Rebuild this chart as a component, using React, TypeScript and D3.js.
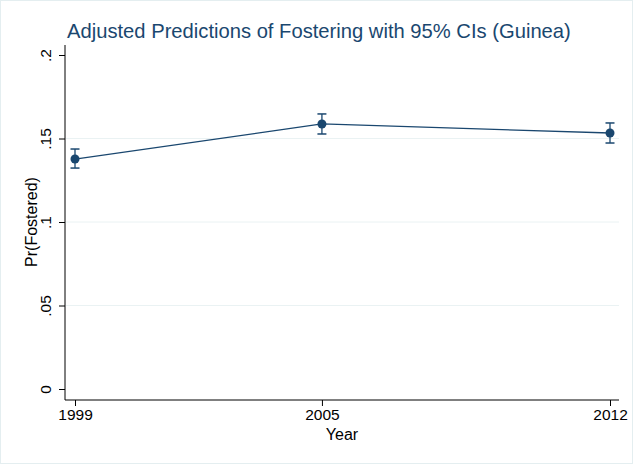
import React, { useEffect, useRef } from 'react';
import * as d3 from 'd3';

const years = [1999, 2005, 2012];
const predicted = [0.1377, 0.1587, 0.1533];
const lower = [0.1323, 0.1527, 0.1473];
const upper = [0.1437, 0.1647, 0.1593];
const yTicks = [0, 0.05, 0.1, 0.15, 0.2];
const yTickLabels = ['0', '.05', '.1', '.15', '.2'];

const W = 634;
const H = 465;
const navy = '#1a476f';

const App = () => {
  const svgRef = useRef<SVGSVGElement>(null);

  useEffect(() => {
    const svg = d3.select(svgRef.current);
    svg.selectAll('*').remove();

    const font = 'Arial, "Liberation Sans", sans-serif';

    // outer frame
    svg.append('rect')
      .attr('x', 0.5).attr('y', 0.5)
      .attr('width', W - 2).attr('height', H - 2)
      .attr('fill', '#fff')
      .attr('stroke', '#e4eef0');

    const x = d3.scaleLinear().domain([1999, 2012]).range([75, 610]);
    const y = d3.scaleLinear().domain([0, 0.2]).range([389, 55]);
    const axisX = 65;
    const axisY = 400;

    // gridlines
    svg.append('g')
      .selectAll('line')
      .data([0.05, 0.1, 0.15])
      .enter().append('line')
      .attr('x1', axisX + 1).attr('x2', 619)
      .attr('y1', d => y(d)).attr('y2', d => y(d))
      .attr('stroke', '#eaf2f3')
      .attr('stroke-width', 1);

    // y axis
    const yAxis = svg.append('g')
      .attr('transform', `translate(${axisX},0)`)
      .call(d3.axisLeft(y).tickValues(yTicks).tickSize(6).tickFormat((d, i) => yTickLabels[i]));
    yAxis.select('.domain').attr('d', `M0,${y(0.2) - 10}V${axisY}`).attr('stroke', '#000');
    yAxis.selectAll('.tick line').attr('stroke', '#000');
    yAxis.selectAll('.tick text')
      .attr('font-family', font).attr('font-size', 15.5).attr('fill', '#000')
      .attr('x', 0).attr('dy', 0)
      .attr('text-anchor', 'middle')
      .attr('transform', 'translate(-14,0) rotate(-90)');

    // x axis
    const xAxis = svg.append('g')
      .attr('transform', `translate(0,${axisY})`)
      .call(d3.axisBottom(x).tickValues(years).tickSize(6).tickFormat(d3.format('d')));
    xAxis.select('.domain').attr('d', `M${axisX},0H619`).attr('stroke', '#000');
    xAxis.selectAll('.tick line').attr('stroke', '#000');
    xAxis.selectAll('.tick text')
      .attr('font-family', font).attr('font-size', 15.5).attr('fill', '#000')
      .attr('y', 9);

    // axis titles
    svg.append('text')
      .attr('x', 342).attr('y', 440)
      .attr('text-anchor', 'middle')
      .attr('font-family', font).attr('font-size', 16)
      .text('Year');
    svg.append('text')
      .attr('transform', `translate(37,${y(0.1)}) rotate(-90)`)
      .attr('text-anchor', 'middle')
      .attr('font-family', font).attr('font-size', 16)
      .text('Pr(Fostered)');

    // title
    svg.append('text')
      .attr('x', 67).attr('y', 38)
      .attr('font-family', font).attr('font-size', 20.2)
      .attr('fill', navy)
      .text('Adjusted Predictions of Fostering with 95% CIs (Guinea)');

    const pts = years.map((yr, i) => ({ yr, p: predicted[i], lo: lower[i], hi: upper[i] }));

    // line
    svg.append('path')
      .datum(pts)
      .attr('fill', 'none')
      .attr('stroke', navy)
      .attr('stroke-width', 1.3)
      .attr('d', d3.line<any>().x(d => x(d.yr)).y(d => y(d.p)));

    // error bars
    const eb = svg.append('g').selectAll('g').data(pts).enter().append('g');
    eb.append('line')
      .attr('x1', d => x(d.yr)).attr('x2', d => x(d.yr))
      .attr('y1', d => y(d.lo)).attr('y2', d => y(d.hi))
      .attr('stroke', navy).attr('stroke-width', 1.3);
    eb.append('line')
      .attr('x1', d => x(d.yr) - 4.5).attr('x2', d => x(d.yr) + 4.5)
      .attr('y1', d => y(d.lo)).attr('y2', d => y(d.lo))
      .attr('stroke', navy).attr('stroke-width', 1.5);
    eb.append('line')
      .attr('x1', d => x(d.yr) - 4.5).attr('x2', d => x(d.yr) + 4.5)
      .attr('y1', d => y(d.hi)).attr('y2', d => y(d.hi))
      .attr('stroke', navy).attr('stroke-width', 1.5);

    // markers
    svg.append('g').selectAll('circle').data(pts).enter().append('circle')
      .attr('cx', d => x(d.yr)).attr('cy', d => y(d.p))
      .attr('r', 4.5)
      .attr('fill', navy);
  }, []);

  return (
    <svg
      ref={svgRef}
      width={W}
      height={H}
      style={{ position: 'absolute', left: 0, top: 0, background: '#fff' }}
    />
  );
};

export default App;
